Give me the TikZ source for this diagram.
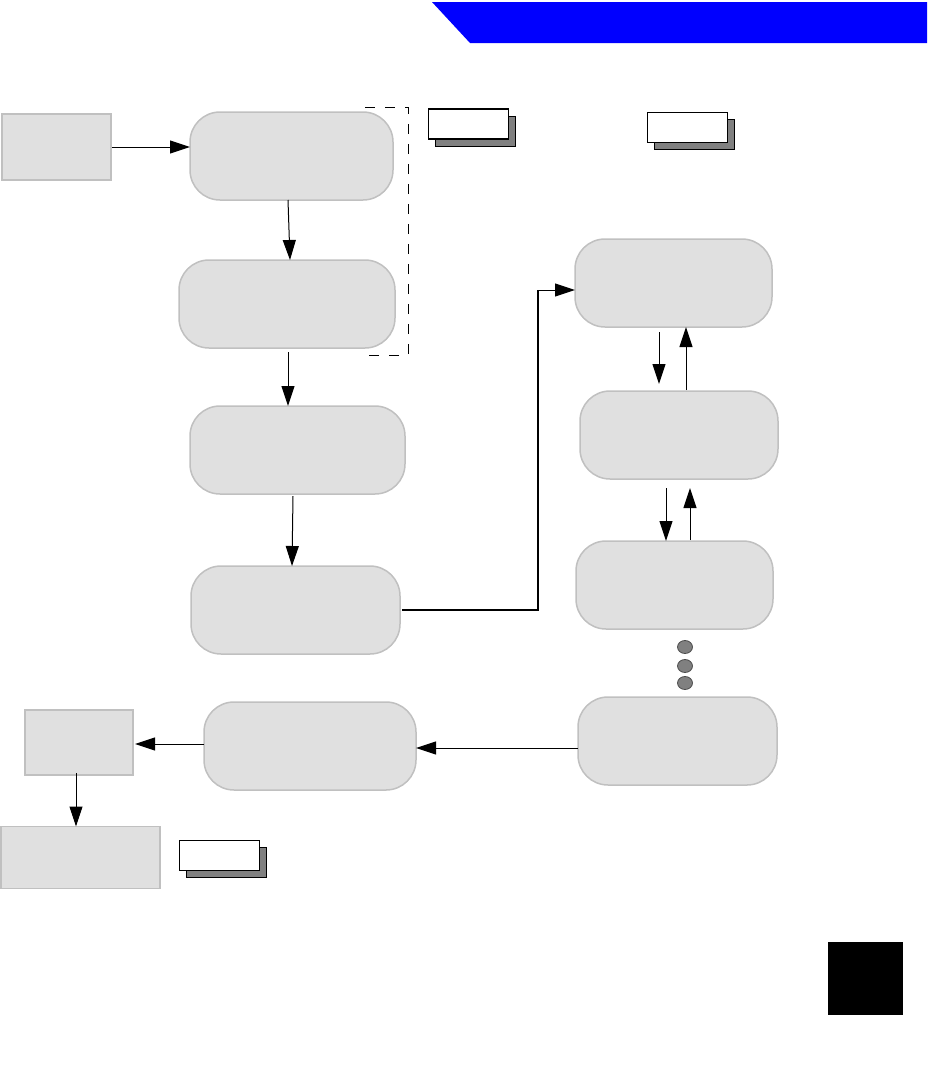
\documentclass[tikz,border=0pt]{standalone}
\usetikzlibrary{arrows.meta,shapes.geometric}
\definecolor{boxfill}{HTML}{E0E0E0}
\definecolor{boxline}{HTML}{C0C0C0}
\definecolor{banner}{HTML}{0000FF}
\definecolor{shadowgray}{HTML}{808080}
\definecolor{dotgray}{HTML}{808080}
\tikzset{
  pill/.style={draw=boxline, fill=boxfill, line width=1.5pt, rounded corners=30pt, inner sep=0pt, outer sep=0pt, minimum width=#1, minimum height=88pt},
  pill/.default=205pt,
  sqbox/.style={draw=boxline, fill=boxfill, line width=1.5pt, inner sep=0pt, outer sep=0pt},
  arr/.style={draw=black, line width=1pt, -{Triangle[length=20pt,width=13pt]}},
  tagbox/.style={draw=black, fill=white, line width=#1, inner sep=0pt, minimum width=80pt, minimum height=30pt},
  tagshadow/.style={draw=black, fill=shadowgray, line width=#1, inner sep=0pt, minimum width=80pt, minimum height=30pt},
  dotnode/.style={ellipse, draw=black!70, fill=dotgray, line width=0.8pt, inner sep=0pt, minimum width=15pt, minimum height=13pt}
}
\begin{document}
\begin{tikzpicture}[x=1pt,y=-1pt]
\useasboundingbox (0,0) rectangle (927,1077);
% banner
\fill[banner] (432,2) -- (927,2) -- (927,43) -- (470,43) -- cycle;
% tags
\node[tagshadow=1.5pt] (t1s) at (475.5,131.5) {};
\node[tagbox=1.5pt] (t1) at (468.5,124) {};
\node[tagshadow=1pt] (t2s) at (694.5,134.5) {};
\node[tagbox=1pt] (t2) at (687.5,127) {};
\node[tagshadow=1pt] (t3s) at (226,862) {};
\node[tagbox=1pt] (t3) at (219,855) {};
% dashed bracket
\draw[black, line width=1pt, dash pattern=on 10pt off 10pt] (365,107) -- (408,107) -- (408,355) -- (365,355);
% left boxes
\node[sqbox, minimum width=109pt, minimum height=66pt] (A) at (56.5,147) {};
\node[sqbox, minimum width=108pt, minimum height=65pt] (B) at (79,742.5) {};
\node[sqbox, minimum width=159pt, minimum height=62pt] (C) at (80.5,857.5) {};
% pills column 1
\node[pill=203pt] (R1) at (291.5,156) {};
\node[pill=216pt] (R2) at (287,304) {};
\node[pill=215pt] (R3) at (297.5,450) {};
\node[pill=209pt] (R4) at (295.5,610) {};
\node[pill=212pt] (R9) at (310,746) {};
% pills column 2
\node[pill=197pt] (R5) at (673.5,283) {};
\node[pill=198pt] (R6) at (679,435) {};
\node[pill=197pt] (R7) at (674.5,585) {};
\node[pill=199pt] (R8) at (677.5,741) {};
% dots
\node[dotnode] (d1) at (685,647) {};
\node[dotnode] (d2) at (685,666) {};
\node[dotnode] (d3) at (685,683) {};
% black square
\fill[black] (828,942) rectangle (903,1015);
% connectors
\draw[arr] ([xshift=1pt]A.east |- 0,147) -- (R1.west |- 0,147);
\draw[arr] ([xshift=-3.5pt]R1.south) -- ([xshift=3pt]R2.north);
\coordinate (c2) at (288,352);
\draw[arr] (c2) -- (R3.north -| c2);
\coordinate (c3) at (293,496);
\draw[arr] (c3) -- ([xshift=-3.5pt]R4.north);
\coordinate (k1) at (538,610);
\coordinate (k2) at (538,290);
\draw[line width=2pt] ([xshift=2pt]R4.east) -- (k1) -- (k2);
\draw[arr] ([xshift=-1pt]k2) -- (R5.west |- k2);
\coordinate (u1) at (659,332);
\draw[arr] (u1) -- (659,384);
\coordinate (u2) at (686,390);
\draw[arr] (u2) -- (R5.south -| u2);
\coordinate (u3) at (666,488);
\draw[arr] (u3) -- (R7.north -| u3);
\coordinate (u4) at (690,540);
\draw[arr] (u4) -- (690,488);
\draw[arr] (R8.west |- 0,748) -- (R9.east |- 0,748);
\draw[arr] (R9.west |- 0,744) -- ([xshift=2pt]B.east |- 0,744);
\draw[arr] (76,773) -- (C.north -| 76,0);
\end{tikzpicture}
\end{document}
